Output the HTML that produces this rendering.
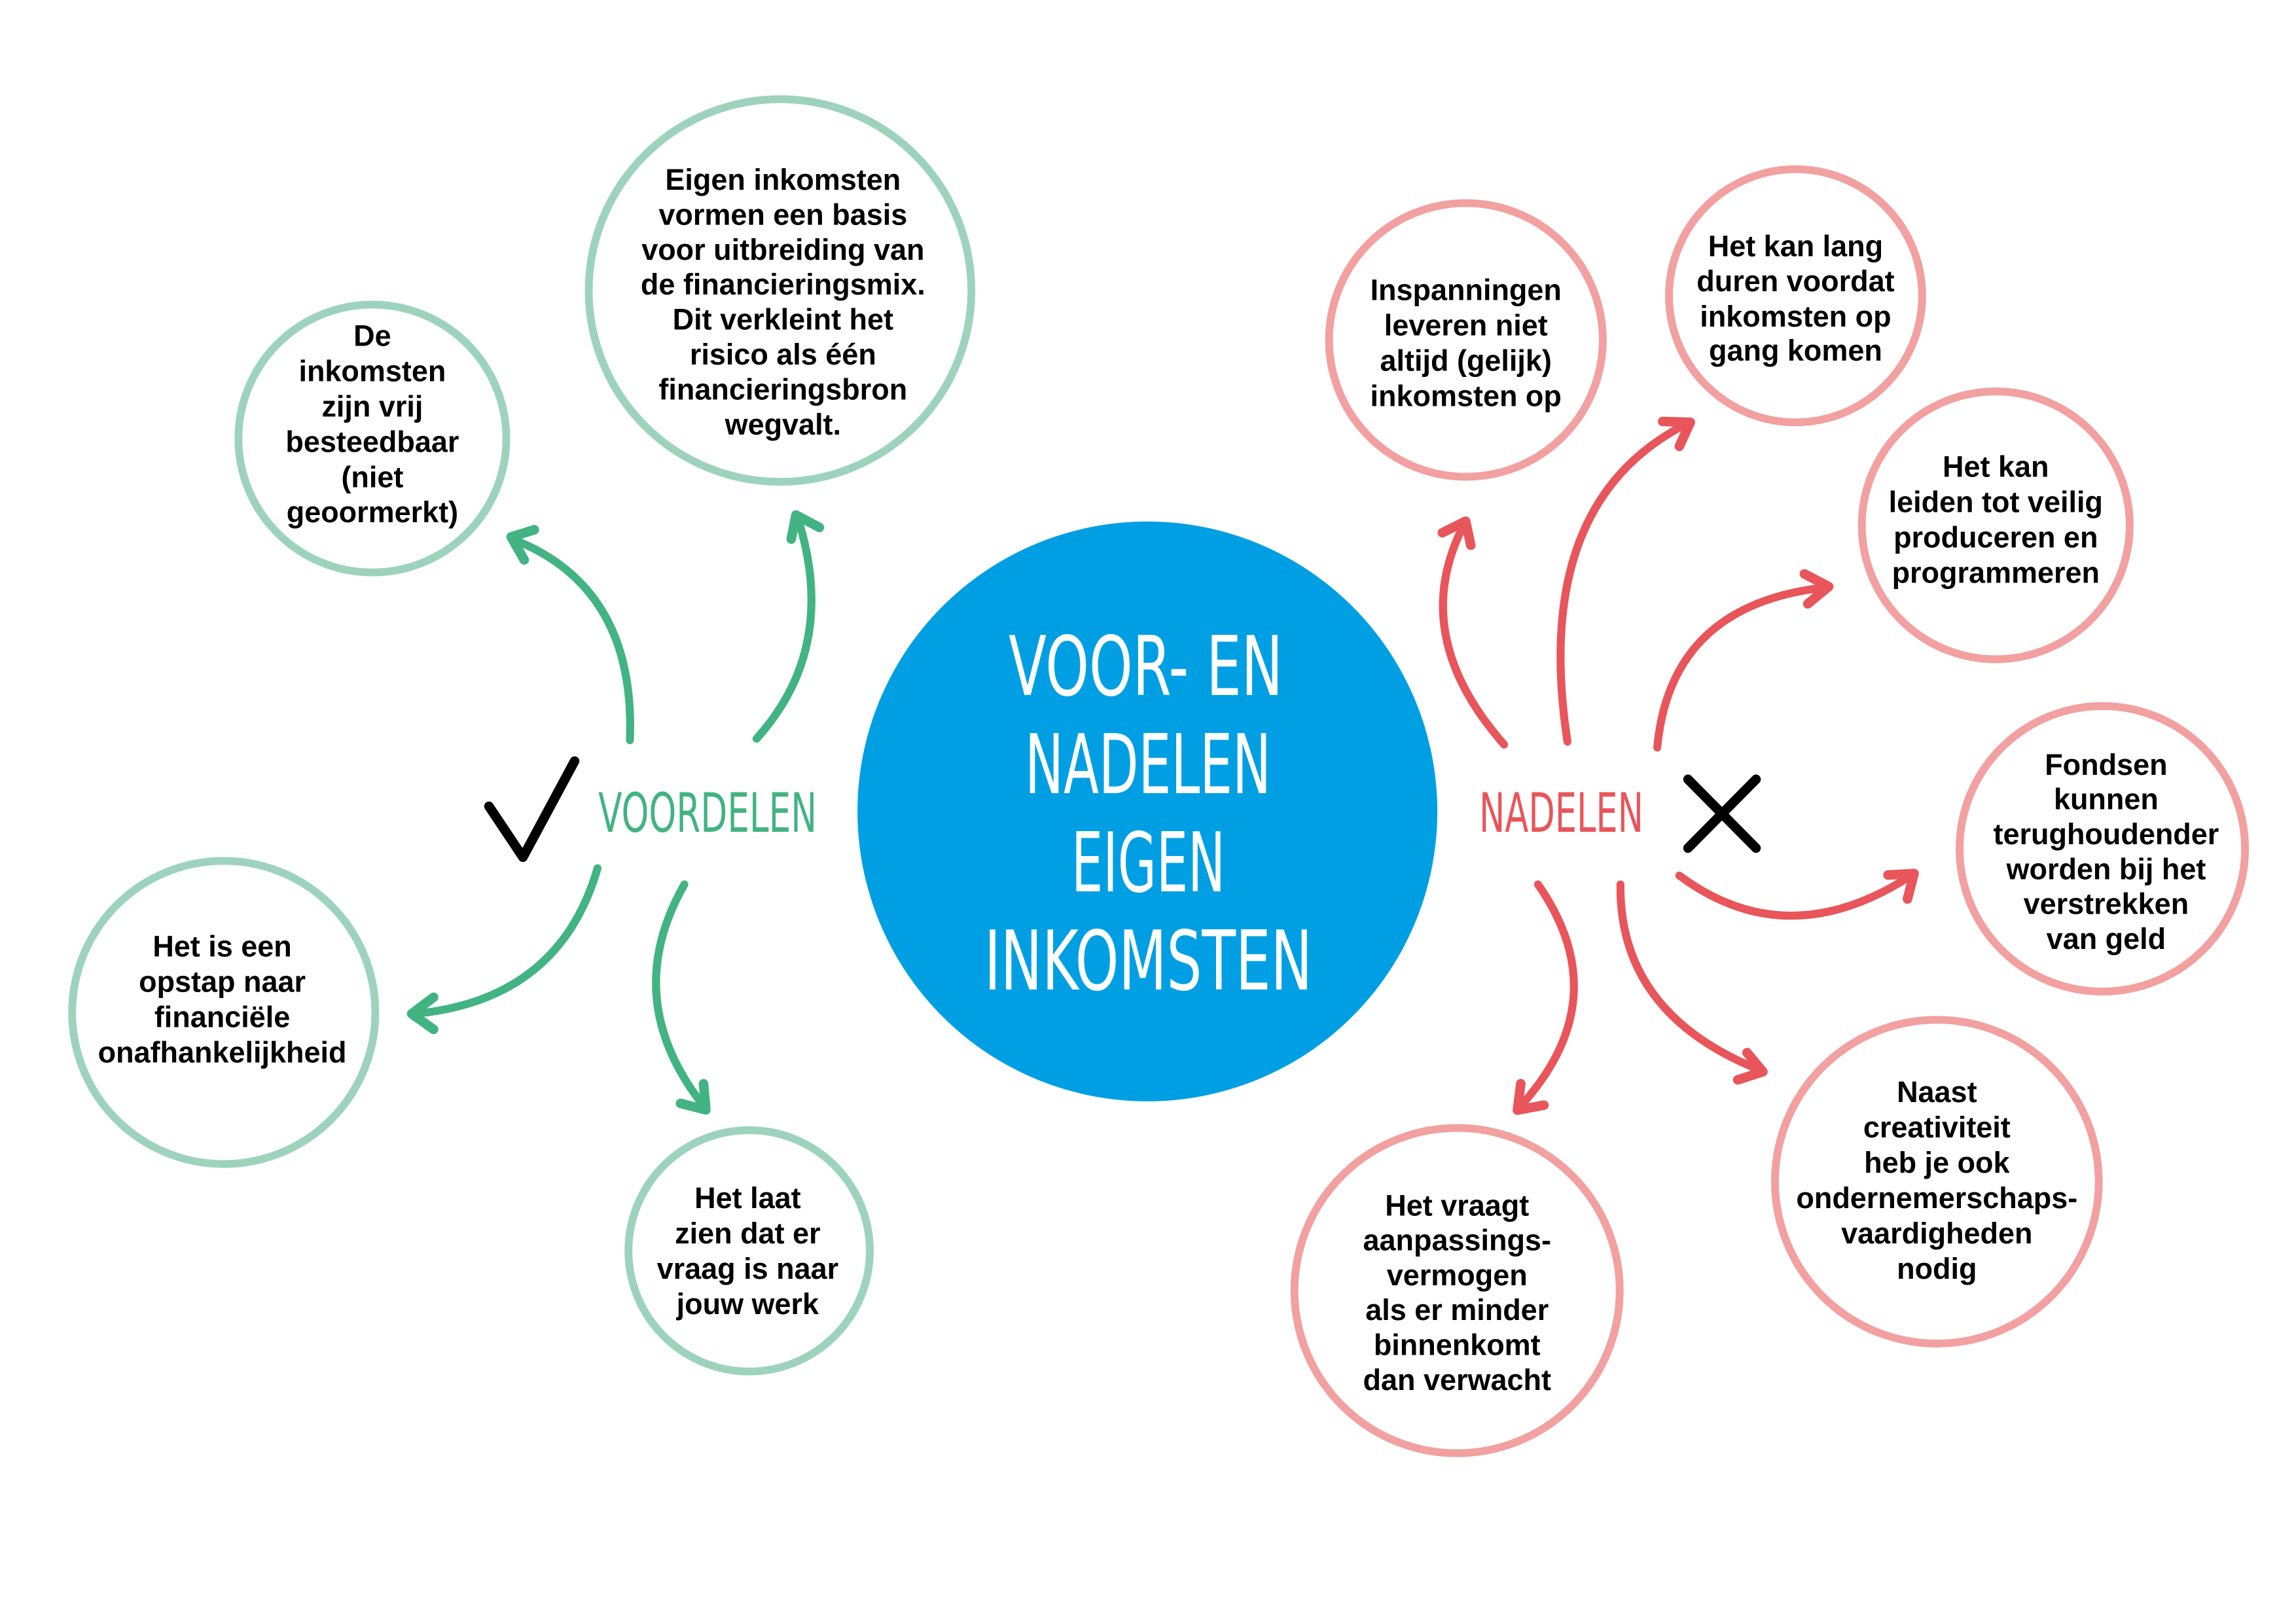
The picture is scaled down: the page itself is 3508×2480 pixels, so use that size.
<!DOCTYPE html>
<html><head><meta charset="utf-8"><style>
html,body{margin:0;padding:0;background:#fff;}
svg{display:block;}
.t{font-family:"Liberation Sans",sans-serif;font-weight:bold;font-size:20px;fill:#000;text-anchor:middle;}
.h{font-family:"Liberation Sans Narrow","DejaVu Sans Condensed","Liberation Sans",sans-serif;}
</style></head><body>
<svg width="3508" height="2480" viewBox="0 0 1560 1102.9" preserveAspectRatio="none" xmlns="http://www.w3.org/2000/svg">
<rect width="1560" height="1102.9" fill="#fff"/>
<circle cx="779.6" cy="551.4" r="197" fill="#009fe3"/>
<g class="h" fill="#fff" font-size="56">
<text x="685.3" y="472.3" textLength="186.3" lengthAdjust="spacingAndGlyphs">VOOR- EN</text>
<text x="696.4" y="539" textLength="167.2" lengthAdjust="spacingAndGlyphs">NADELEN</text>
<text x="728" y="605.7" textLength="104.5" lengthAdjust="spacingAndGlyphs">EIGEN</text>
<text x="668.8" y="672.4" textLength="222.8" lengthAdjust="spacingAndGlyphs">INKOMSTEN</text>
</g>
<text class="h" x="406.5" y="565.2" font-size="37" fill="#42b382" textLength="148.5" lengthAdjust="spacingAndGlyphs">VOORDELEN</text>
<text class="h" x="1005" y="565.2" font-size="37" fill="#e8555a" textLength="111.6" lengthAdjust="spacingAndGlyphs">NADELEN</text>
<polyline points="332.2,547.9 355.3,582.5 390.4,517.2" fill="none" stroke="#000" stroke-width="6.5" stroke-linecap="round" stroke-linejoin="round"/>
<g stroke="#000" stroke-width="6.5" stroke-linecap="round"><line x1="1146.9" y1="529.6" x2="1193.1" y2="576.3"/><line x1="1193.1" y1="529.6" x2="1146.9" y2="576.3"/></g>
<g fill="none" stroke="#42b382" stroke-width="5.4" stroke-linecap="round" stroke-linejoin="round">
<path d="M428,503 Q432,400 350,367"/><polyline stroke-width="6.5" points="363,360 347.3,364.9 356.2,380.5"/>
<path d="M514,502 Q570,440 542,352"/><polyline stroke-width="6.5" points="556.7,358.4 540.8,350 537.6,366.3"/>
<path d="M406,590 Q380,680 281,689"/><polyline stroke-width="6.5" points="294.6,677.7 279.7,688.9 294.6,699.5"/>
<path d="M465,601 Q420,680 480,754"/><polyline stroke-width="6.5" points="478,736.5 479.6,754.2 462.4,749.8"/>
</g>
<g fill="none" stroke="#e8555a" stroke-width="5.4" stroke-linecap="round" stroke-linejoin="round">
<path d="M1022,506 Q955,430 996,354"/><polyline stroke-width="6.5" points="980,362 995.8,354.2 999.3,370.5"/>
<path d="M1065,504 Q1040,340 1148,287"/><polyline stroke-width="6.5" points="1129.7,286.4 1148.5,287 1141,303.3"/>
<path d="M1126,508 Q1135,410 1242,399"/><polyline stroke-width="6.5" points="1226,390 1242.5,398.6 1228.3,410.3"/>
<path d="M1141,595 Q1215,650 1300,594"/><polyline stroke-width="6.5" points="1282.8,594.6 1300.5,593.6 1296,610.9"/>
<path d="M1101,601 Q1100,690 1198,728"/><polyline stroke-width="6.5" points="1187,715.3 1197.8,728.3 1180.7,733.8"/>
<path d="M1045,601 Q1100,680 1031,754"/><polyline stroke-width="6.5" points="1033.3,736.4 1031,754.4 1049,751"/>
</g>
<g fill="none" stroke="#9dd3bd" stroke-width="5.3">
<circle cx="253" cy="298" r="91"/>
<circle cx="530" cy="197.4" r="130"/>
<circle cx="152" cy="688" r="103"/>
<circle cx="509" cy="850" r="82"/>
</g>
<g fill="none" stroke="#f2a0a0" stroke-width="5.3">
<circle cx="996" cy="231" r="93"/>
<circle cx="1220" cy="201" r="86"/>
<circle cx="1356" cy="357" r="91"/>
<circle cx="1428.4" cy="576.8" r="97"/>
<circle cx="1316" cy="803" r="110"/>
<circle cx="990" cy="877" r="110.5"/>
</g>
<text class="t"><tspan x="253" y="235">De</tspan><tspan x="253" y="259">inkomsten</tspan><tspan x="253" y="283">zijn vrij</tspan><tspan x="253" y="307">besteedbaar</tspan><tspan x="253" y="331">(niet</tspan><tspan x="253" y="355">geoormerkt)</tspan></text>
<text class="t"><tspan x="532" y="129">Eigen inkomsten</tspan><tspan x="532" y="152.7">vormen een basis</tspan><tspan x="532" y="176.5">voor uitbreiding van</tspan><tspan x="532" y="200.2">de financieringsmix.</tspan><tspan x="532" y="224">Dit verkleint het</tspan><tspan x="532" y="247.7">risico als één</tspan><tspan x="532" y="271.5">financieringsbron</tspan><tspan x="532" y="295.2">wegvalt.</tspan></text>
<text class="t"><tspan x="151" y="650">Het is een</tspan><tspan x="151" y="674">opstap naar</tspan><tspan x="151" y="698">financiële</tspan><tspan x="151" y="722">onafhankelijkheid</tspan></text>
<text class="t"><tspan x="508" y="821">Het laat</tspan><tspan x="508" y="845">zien dat er</tspan><tspan x="508" y="869">vraag is naar</tspan><tspan x="508" y="893">jouw werk</tspan></text>
<text class="t"><tspan x="996" y="204">Inspanningen</tspan><tspan x="996" y="228">leveren niet</tspan><tspan x="996" y="252">altijd (gelijk)</tspan><tspan x="996" y="276">inkomsten op</tspan></text>
<text class="t"><tspan x="1220" y="174">Het kan lang</tspan><tspan x="1220" y="198">duren voordat</tspan><tspan x="1220" y="222">inkomsten op</tspan><tspan x="1220" y="245">gang komen</tspan></text>
<text class="t"><tspan x="1356" y="324">Het kan</tspan><tspan x="1356" y="348">leiden tot veilig</tspan><tspan x="1356" y="372">produceren en</tspan><tspan x="1356" y="396">programmeren</tspan></text>
<text class="t"><tspan x="1431" y="526.5">Fondsen</tspan><tspan x="1431" y="550">kunnen</tspan><tspan x="1431" y="573.7">terughoudender</tspan><tspan x="1431" y="597.4">worden bij het</tspan><tspan x="1431" y="621.1">verstrekken</tspan><tspan x="1431" y="644.8">van geld</tspan></text>
<text class="t"><tspan x="1316" y="749">Naast</tspan><tspan x="1316" y="773">creativiteit</tspan><tspan x="1316" y="797">heb je ook</tspan><tspan x="1316" y="821">ondernemerschaps-</tspan><tspan x="1316" y="845">vaardigheden</tspan><tspan x="1316" y="869">nodig</tspan></text>
<text class="t"><tspan x="990" y="826">Het vraagt</tspan><tspan x="990" y="849.7">aanpassings-</tspan><tspan x="990" y="873.4">vermogen</tspan><tspan x="990" y="897.1">als er minder</tspan><tspan x="990" y="920.8">binnenkomt</tspan><tspan x="990" y="944.6">dan verwacht</tspan></text>
</svg>
</body></html>
